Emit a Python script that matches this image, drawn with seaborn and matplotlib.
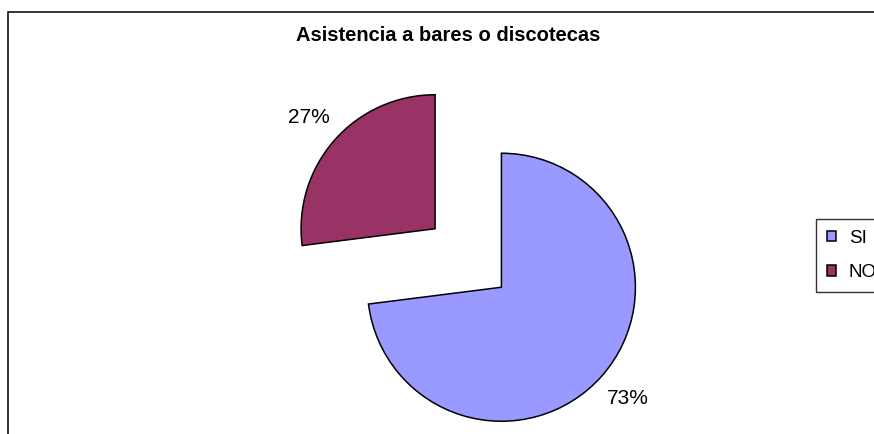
import matplotlib
matplotlib.use("Agg")
import matplotlib.pyplot as plt
from matplotlib.patches import Rectangle
import seaborn as sns

# Survey answers: attendance to bars or discos
categories = ["SI", "NO"]
percentages = [73, 27]
slice_colors = ["#9999FF", "#993366"]
title_text = "Asistencia a bares o discotecas"

sns.set_theme(style="white")
plt.rcParams["font.family"] = ["Liberation Sans", "DejaVu Sans"]
plt.rcParams["text.color"] = "black"

W, H = 874, 434
fig = plt.figure(figsize=(W / 100, H / 100), dpi=100)
fig.patch.set_facecolor("white")

# Chart area border (runs off the right and bottom edges)
fig.add_artist(Rectangle((7.5 / W, -0.2), 1.3, 1 - 12.5 / H + 0.2,
                         transform=fig.transFigure, fill=False,
                         edgecolor="black", linewidth=1.1))

# Pie axes: one data unit equals the pie radius (134 px)
R = 134.0
cx, cy = 468.25, H - 258.0
ax = fig.add_axes([0, 0, 1, 1])
palette = sns.color_palette(slice_colors)
wedges, texts, autotexts = ax.pie(
    percentages,
    colors=palette,
    startangle=90,
    counterclock=False,
    explode=[0.33, 0.33],
    radius=1.0,
    autopct="%1.0f%%",
    pctdistance=1.26,
    wedgeprops=dict(edgecolor="black", linewidth=1.1),
    textprops=dict(fontsize=15, color="black"),
)
ax.set_xlim(-cx / R, (W - cx) / R)
ax.set_ylim(-cy / R, (H - cy) / R)
ax.set_aspect("auto")
ax.axis("off")

fig.text(448.5 / W, 1 - 35.5 / H, title_text, ha="center", va="center",
         fontsize=14.5, fontweight="bold", color="black")

leg = fig.legend(
    wedges, categories,
    loc="upper left",
    bbox_to_anchor=(816 / W, 1 - 219 / H),
    borderaxespad=0,
    frameon=True,
    fancybox=False,
    edgecolor="black",
    fontsize=13.5,
    handlelength=0.48,
    handleheight=0.48,
    handletextpad=0.7,
    labelspacing=0.93,
    borderpad=0.57,
    labelcolor="black",
)
leg.get_frame().set_linewidth(1.0)
leg.get_frame().set_facecolor("white")

fig.savefig("out.png", dpi=100, facecolor="white")
